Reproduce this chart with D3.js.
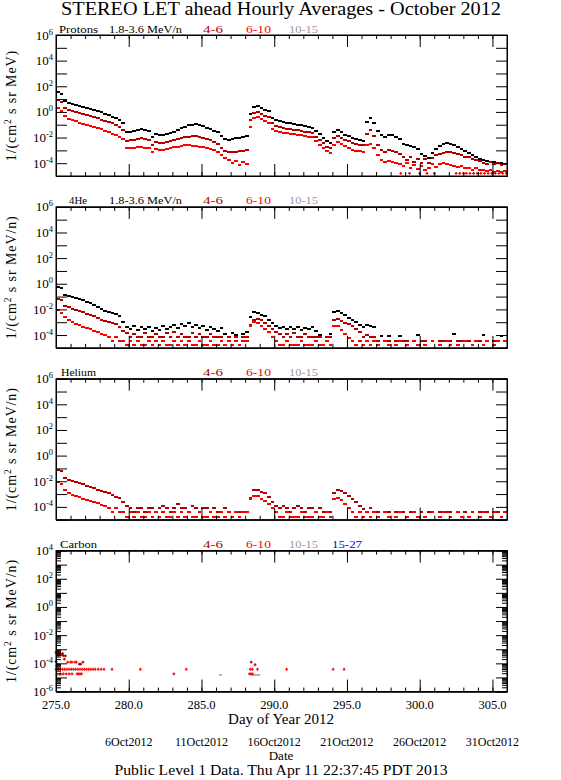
<!DOCTYPE html>
<html><head><meta charset="utf-8">
<script src="https://cdn.jsdelivr.net/npm/d3@7"></script>
<style>body{margin:0;background:#fff}svg{display:block}</style>
</head><body>
<svg id="c" width="561" height="780"></svg>
<script>
// ---------------- DATA (log10 of flux, one value per 6-hour bin starting at DOY 275.00) ----------------
const binStart = 275, binDays = 0.25;
const xMajorTicks = [275, 280, 285, 290, 295, 300, 305];
const dateLabelDays = [280, 285, 290, 295, 300, 305];
const dateLabels = ["6Oct2012", "11Oct2012", "16Oct2012", "21Oct2012", "26Oct2012", "31Oct2012"];
const channelLabels = ["4-6", "6-10", "10-15", "15-27"];
const topExponents = [6, 4, 2, 0, -2, -4];
const carbonExponents = [4, 2, 0, -2, -4, -6];

// Protons
const protons_1_8_3_6 = [
 1.53,1.37,0.85,0.70, 0.62,0.54,0.46,0.40,
 0.32,0.24,0.17,0.08, -0.02,-0.14,-0.26,-0.36,
 -0.48,-0.62,-0.89,-1.58, -1.55,-1.50,-1.42,-1.36,
 -1.42,-1.52,-1.95,-1.70, -1.80,-1.78,-1.72,-1.64,
 -1.55,-1.42,-1.28,-1.16, -1.06,-0.99,-0.97,-1.04,
 -1.12,-1.22,-1.33,-1.46, -1.60,-1.90,-2.15,-2.17,
 -2.10,-2.06,-2.02,-1.96, -1.90,-0.20,0.42,0.46,
 0.30,0.15,0.04,-0.45, -0.64,-0.72,-0.78,-0.84,
 -0.89,-0.94,-0.99,-1.04, -1.10,-1.16,-1.22,-1.50,
 -1.75,-2.02,-2.25,-2.40, -1.60,-1.42,-1.58,-1.78,
 -1.90,-2.00,-2.08,-2.18, -2.24,-0.80,-0.48,-0.90,
 -1.50,-1.80,-1.98,-1.82, -1.84,-1.92,-2.10,-2.50,
 -2.62,-2.68,-2.72,-2.90, -3.30,-3.45,-3.60,-3.20,
 -2.88,-2.65,-2.48,-2.42, -2.50,-2.60,-2.75,-2.90,
 -3.05,-3.20,-3.35,-3.50, -3.65,-3.78,-3.85,-3.90,
 -3.93,-3.98,-4.02,-4.07];
const protons_4_6 = [
 0.93,0.80,0.30,0.12, 0.05,-0.02,-0.10,-0.17,
 -0.25,-0.33,-0.40,-0.50, -0.60,-0.70,-0.80,-0.90,
 -1.02,-1.18,-1.42,-2.30, -2.22,-2.18,-2.10,-2.06,
 -2.10,-2.16,-2.55,-2.33, -2.45,-2.42,-2.36,-2.28,
 -2.20,-2.10,-2.02,-1.96, -1.92,-1.88,-1.88,-1.95,
 -2.03,-2.12,-2.22,-2.35, -2.50,-2.80,-3.05,-3.12,
 -3.10,-3.15,-3.02,-3.08, -3.00,-0.60,-0.12,0.00,
 -0.15,-0.30,-0.40,-0.90, -1.10,-1.18,-1.24,-1.30,
 -1.36,-1.40,-1.44,-1.48, -1.54,-1.60,-1.66,-1.95,
 -2.20,-2.45,-2.70,-2.85, -2.05,-1.90,-2.05,-2.18,
 -2.30,-2.40,-2.48,-2.55, -2.60,-1.70,-1.45,-1.90,
 -2.60,-3.00,-3.12,-2.98, -3.05,-3.15,-3.25,-3.50,
 -3.75,-3.55,-3.90,-3.65, -3.95,-3.70,-4.00,-3.60,
 -3.40,-3.25,-3.18,-3.10, -3.12,-3.20,-3.30,-3.40,
 -3.50,-3.55,-3.65,-3.75, -3.85,-3.95,-4.05,-3.90,
 -4.10,-4.00,-4.15,-4.05];
const protons_6_10 = [
 0.28,0.10,-0.35,-0.58, -0.66,-0.74,-0.84,-0.92,
 -1.00,-1.08,-1.16,-1.26, -1.36,-1.46,-1.58,-1.70,
 -1.82,-1.94,-2.10,-2.82, -2.80,-2.78,-2.76,-2.75,
 -2.80,-2.85,-3.15,-2.92, -2.97,-2.95,-2.90,-2.82,
 -2.76,-2.70,-2.64,-2.60, -2.62,-2.65,-2.66,-2.70,
 -2.76,-2.82,-2.90,-3.00, -3.12,-3.35,-3.60,-3.75,
 -3.95,-3.80,-4.15,-3.90, -4.05,-1.20,-0.50,-0.42,
 -0.58,-0.72,-0.85,-1.30, -1.50,-1.58,-1.63,-1.68,
 -1.72,-1.76,-1.80,-1.84, -1.88,-1.92,-1.98,-2.28,
 -2.55,-2.82,-3.05,-3.20, -2.55,-2.35,-2.52,-2.68,
 -2.85,-2.97,-3.02,-3.08, -3.12,-2.60,-2.48,-2.80,
 -3.40,-3.75,-3.88,-3.85, -3.92,-4.00,-4.05,-4.20,
 -4.00,-4.35,-4.15,-4.45, -4.20,-4.55,-4.35,-4.10,
 -4.30,-4.05,-4.00,-4.10, -4.15,-4.25,-4.30,-4.20,
 -4.40,-4.35,-4.50,-4.40, -4.55,-4.50,-4.62,-4.55,
 -4.65,-4.60,-4.70,-4.62];
const protonFloorDays = [298.7,299.3,300.0,300.5,301.0,302.5,302.75,303.0,303.2,303.45,303.7,303.95,304.2,304.45,304.7,304.95,305.2,305.45,305.7,305.95];
const protonFloorLog = -4.79;

// 4He
const he4_1_8_3_6 = [
 -0.25,-0.30,-0.85,-0.92, -1.02,-1.10,-1.20,-1.30,
 -1.40,-1.50,-1.62,-1.78, -1.95,-2.10,-2.20,-2.28,
 -2.36,-2.55,-2.95,-3.35, -3.50,-3.30,-3.60,-3.40,
 -3.55,-3.35,-3.70,-3.45, -3.60,-3.30,-3.50,-3.40,
 -3.25,-3.45,-3.15,-3.30, -3.10,-3.35,-3.20,-3.45,
 -3.30,-3.60,-3.40,-3.55, -3.70,-3.45,-3.90,null,
 -3.85,-4.00,null,-3.90, -3.80,-2.60,-2.22,-2.25,
 -2.40,-2.55,-2.80,-3.10, -3.30,-3.45,-3.35,-3.55,
 -3.40,-3.50,-3.35,-3.60, -3.45,-3.55,-3.40,-3.70,
 -4.00,null,null,-3.95, -2.20,-2.10,-2.30,-2.45,
 -2.65,-2.85,-3.00,-3.25, -3.40,-3.25,-3.30,-3.40,
 null,-4.10,null,-4.10, null,null,-4.10,null,
 null,null,null,-4.00, null,null,null,null,
 null,null,null,null, null,-3.95,null,null,
 null,null,null,null, null,-3.97,null,null,
 null,null,-4.10,null];
const he4_4_6 = [
 -1.17,-1.28,-1.75,-1.85, -1.95,-2.03,-2.12,-2.22,
 -2.35,-2.45,-2.55,-2.68, -2.85,-2.92,-3.00,-3.06,
 -3.12,-3.35,-3.65,-3.85, -4.15,-3.90,-4.15,-4.15,
 -3.85,-4.15,-4.15,-3.95, -4.15,-4.15,-3.85,-4.15,
 -3.80,-4.15,-3.90,-4.15, -4.15,-3.85,-4.15,-3.95,
 -4.15,-4.15,-3.90,-4.15, -4.15,-4.15,null,-4.15,
 null,-4.15,null,-4.15, -4.15,-3.20,-2.80,-2.73,
 -2.85,-3.05,-3.30,-3.55, -3.80,-3.95,-4.15,-3.90,
 -4.15,-3.85,-4.15,-4.15, -3.95,-4.15,-4.15,-4.15,
 -4.15,null,-4.15,-4.15, -2.85,-2.75,-2.90,-3.05,
 -3.15,-3.30,-3.55,-3.80, -4.15,-4.00,-4.15,-4.15,
 -4.47,null,-4.47,-4.47, null,-4.47,null,-4.47,
 -4.47,null,-4.47,null, -4.47,-4.47,null,-4.47,
 null,-4.47,-4.47,null, -4.47,null,-4.47,-4.47,
 null,-4.47,null,-4.47, -4.47,null,-4.47,null,
 -4.47,-4.47,null,-4.47];
const he4_6_10 = [
 -2.08,-2.25,-2.60,-2.85, -3.00,-3.15,-3.25,-3.35,
 -3.45,-3.55,-3.65,-3.75, -3.90,-4.00,-4.15,-4.47,
 -4.15,-4.47,-4.47,-4.80, -4.47,-4.80,-4.47,-4.80,
 -4.80,-4.47,-4.80,-4.47, -4.80,-4.47,-4.80,-4.80,
 -4.47,-4.80,-4.47,-4.80, -4.47,-4.80,-4.80,-4.47,
 -4.80,-4.80,-4.47,-4.80, -4.80,-4.47,-4.80,-4.47,
 -4.80,-4.47,-4.80,-4.47, -4.47,-3.30,-3.00,-3.10,
 -3.30,-3.55,-3.80,-4.15, -4.47,-4.80,-4.80,-4.47,
 -4.80,-4.80,-4.80,-4.47, -4.80,-4.80,-4.80,-4.47,
 -4.80,-4.80,-4.47,-4.80, -3.30,-3.30,-3.60,-3.90,
 -4.20,-4.47,-4.80,-4.47, -4.80,-4.47,-4.80,-4.47,
 -4.80,null,-4.47,-4.80, null,-4.80,-4.47,null,
 -4.80,null,-4.47,-4.80, null,-4.80,null,-4.47,
 null,-4.80,null,-4.47, -4.80,null,-4.80,null,
 -4.47,null,-4.80,-4.47, null,-4.80,-4.47,null,
 -4.80,-4.47,null,-4.47];

// Helium
const helium_4_6 = [
 -1.13,-1.20,-1.75,-1.88, -1.98,-2.07,-2.15,-2.25,
 -2.35,-2.45,-2.55,-2.65, -2.78,-2.85,-2.95,-3.05,
 -3.20,-3.32,-3.65,-3.95, -4.10,-4.40,-4.05,-4.10,
 -4.40,-4.05,-4.10,-4.40, -4.05,-3.90,-4.10,-4.40,
 -4.05,-3.80,-4.10,-4.05, -4.40,-3.95,-4.10,-4.40,
 -4.05,-4.10,-4.40,-4.10, -4.40,-4.40,-4.10,-4.40,
 null,-4.40,-4.40,null, -4.40,-3.30,-2.72,-2.70,
 -2.80,-2.95,-3.20,-3.60, -3.90,-4.05,-3.95,-4.10,
 -4.40,-4.05,-3.90,-4.10, -4.40,-4.05,-4.10,-4.40,
 -4.10,-4.40,null,-4.40, -2.90,-2.70,-2.78,-2.95,
 -3.15,-3.35,-3.65,-3.90, -4.15,-4.40,-4.10,-4.40,
 -4.40,null,-4.40,-4.40, null,-4.40,null,-4.40,
 null,-4.40,null,null, -4.40,null,-4.40,-4.40,
 null,-4.40,null,-4.40, -4.40,null,-4.40,null,
 -4.40,null,-4.40,null, -4.40,null,-4.40,null,
 -4.40,-4.40,null,-4.40];
const helium_6_10 = [
 -2.09,-2.25,-2.70,-2.92, -3.05,-3.15,-3.25,-3.35,
 -3.45,-3.55,-3.62,-3.72, -3.85,-3.95,-4.05,-4.43,
 -4.05,-4.43,-4.43,-4.77, -4.43,-4.77,-4.43,-4.77,
 -4.77,-4.43,-4.77,-4.43, -4.77,-4.43,-4.77,-4.77,
 -4.43,-4.77,-4.43,-4.77, -4.43,-4.77,-4.77,-4.43,
 -4.77,-4.77,-4.43,-4.77, -4.77,-4.43,-4.77,-4.43,
 -4.77,-4.43,-4.77,-4.43, -4.43,-3.40,-3.15,-3.15,
 -3.35,-3.55,-3.75,-4.05, -4.43,-4.77,-4.77,-4.43,
 -4.77,-4.77,-4.77,-4.43, -4.77,-4.77,-4.77,-4.43,
 -4.77,-4.77,-4.43,-4.77, -3.40,-3.30,-3.50,-3.75,
 -4.05,-4.43,-4.77,-4.43, -4.77,-4.43,-4.77,-4.43,
 -4.77,null,-4.43,-4.77, null,-4.77,-4.43,null,
 -4.77,null,-4.43,-4.77, null,-4.77,null,-4.43,
 null,-4.77,-4.43,null, -4.77,null,-4.43,-4.77,
 null,-4.77,-4.43,null, -4.77,-4.43,null,-4.77,
 -4.43,null,-4.77,-4.43];

// Carbon (sparse hourly points: day, log10 flux)
const carbon_4_6_days = [275.0,275.05,275.1,275.15,275.2,275.25,275.3,275.35,275.45,275.5,275.57,275.65,275.0,275.05,275.12,276.6,276.7,276.85,288.42,288.68];
const carbon_4_6_log  = [-3.2,-3.35,-3.25,-3.45,-3.3,-3.35,-3.3,-3.4,-3.3,-3.45,-3.7,-3.47,-3.87,-4.18,-4.05,-4.06,-4.06,-3.92,-3.92,-4.1];
const carbon_6_10_days = [275.8,276.0,276.1,276.3,276.4,
 275.0,275.15,275.3,275.45,275.6,275.75,275.9,276.05,276.2,276.35,276.5,276.65,276.8,276.95,277.1,277.25,277.4,277.55,277.7,277.9,278.1,278.3,278.85,280.8,283.95,288.35,288.5,288.85,290.85,294.05,294.8,
 275.3,275.5,275.7,275.9,276.1,276.45,276.55,276.65,276.75,283.1,288.3,288.4,288.5];
const carbon_6_10_log = [-3.92,-3.92,-3.92,-3.92,-3.92,
 -4.42,-4.42,-4.42,-4.42,-4.42,-4.42,-4.42,-4.42,-4.42,-4.42,-4.42,-4.42,-4.42,-4.42,-4.42,-4.42,-4.42,-4.42,-4.42,-4.42,-4.42,-4.42,-4.42,-4.42,-4.42,-4.42,-4.42,-4.42,-4.42,-4.42,-4.42,
 -4.75,-4.75,-4.75,-4.75,-4.75,-4.75,-4.75,-4.75,-4.75,-4.75,-4.75,-4.75,-4.75];
const carbon_10_15_days = [275.05,275.2,275.35,286.3,288.5,288.65,288.8,288.95];
const carbon_10_15_log  = [-4.82,-4.82,-4.82,-4.82,-4.82,-4.82,-4.82,-4.82];

// ---------------- DRAWING ----------------
const C_BLACK = "#000000", C_DRED = "#b00000", C_RED = "#ff0000", C_GRAY = "#999999", C_BLUE = "#0000ff";
const FONT = "'Liberation Serif','DejaVu Serif',serif";
const svg = d3.select("#c");
svg.append("rect").attr("width", 561).attr("height", 780).attr("fill", "#fff");

const x = d3.scaleLinear().domain([275, 306]).range([56, 507]);
const panelH = 141;
const panels = [
  {name: "Protons", nameX: 59, nameW: 39, sub: "1.8-3.6 MeV/n", legends: 3, unit: "MeV", domain: [1e-5, 1e6], exps: topExponents,
   series: [[protons_1_8_3_6, C_BLACK], [protons_4_6, C_DRED], [protons_6_10, C_RED]]},
  {name: "4He", nameX: 69, nameW: 18, sub: "1.8-3.6 MeV/n", legends: 3, unit: "MeV/n", domain: [1e-5, 1e6], exps: topExponents,
   series: [[he4_1_8_3_6, C_BLACK], [he4_4_6, C_DRED], [he4_6_10, C_RED]]},
  {name: "Helium", nameX: 61, nameW: 35, sub: null, legends: 3, unit: "MeV/n", domain: [1e-5, 1e6], exps: topExponents,
   series: [[helium_4_6, C_DRED], [helium_6_10, C_RED]]},
  {name: "Carbon", nameX: 60, nameW: 37, sub: null, legends: 4, unit: "MeV/n", domain: [1e-6, 1e4], exps: carbonExponents, minor: true,
   series: []}
];
const legendX = [203, 246, 289, 332];
const legendW = [20, 25, 29, 30];
const legendColors = [C_DRED, C_RED, C_GRAY, C_BLUE];

// title
svg.append("text").attr("x", 281).attr("y", 15).attr("text-anchor", "middle")
  .attr("font-family", FONT).attr("font-size", 18).attr("textLength", 440).attr("lengthAdjust", "spacingAndGlyphs")
  .text("STEREO LET ahead Hourly Averages - October 2012");

panels.forEach((p, pi) => {
  const top = 35 + pi * 171.85, bot = top + panelH;
  const y = d3.scaleLog().domain(p.domain).range([bot, top]);
  const g = svg.append("g");

  // data
  const bw = x(binStart + binDays) - x(binStart);
  p.series.forEach(([vals, col]) => {
    g.append("g").selectAll("rect").data(vals.map((v, i) => ({d: binStart + i * binDays, v})).filter(o => o.v !== null))
      .join("rect")
      .attr("x", o => x(o.d)).attr("width", bw)
      .attr("y", o => y(Math.pow(10, o.v)) - 1).attr("height", 2)
      .attr("fill", col).attr("shape-rendering", "crispEdges");
  });
  const plus = (days, logs, col, sz) => {
    g.append("g").selectAll("path").data(days.map((d, i) => ({d, v: Array.isArray(logs) ? logs[i] : logs})))
      .join("path")
      .attr("transform", o => `translate(${x(o.d)},${y(Math.pow(10, o.v))})`)
      .attr("d", `M${-sz},0H${sz}M0,${-sz}V${sz}`)
      .attr("stroke", col).attr("stroke-width", 1.2).attr("fill", "none");
  };
  if (pi === 0) plus(protonFloorDays, protonFloorLog, C_RED, 1.4);
  if (pi === 3) {
    g.append("g").selectAll("rect").data(carbon_10_15_days.map((d, i) => ({d, v: carbon_10_15_log[i]})))
      .join("rect").attr("x", o => x(o.d) - 1.5).attr("width", 3).attr("y", o => y(Math.pow(10, o.v)) - 0.7).attr("height", 1.4)
      .attr("fill", C_GRAY);
    plus(carbon_6_10_days, carbon_6_10_log, C_RED, 1.4);
    plus(carbon_4_6_days, carbon_4_6_log, C_DRED, 1.4);
  }

  // axes
  const decades = d3.range(Math.log10(p.domain[0]), Math.log10(p.domain[1]) + 1).map(e => Math.pow(10, e));
  const axStyle = sel => { sel.selectAll("path,line").attr("stroke", "#000").attr("stroke-width", 1); sel.selectAll("text").remove(); };
  g.append("g").attr("transform", `translate(56,0)`).call(d3.axisLeft(y).tickValues(decades).tickSize(-11).tickSizeOuter(0).tickFormat("")).call(axStyle);
  g.append("g").attr("transform", `translate(507,0)`).call(d3.axisRight(y).tickValues(decades).tickSize(-11).tickSizeOuter(0).tickFormat("")).call(axStyle);
  if (p.minor) {
    const minors = [];
    decades.slice(0, -1).forEach(dv => { for (let k = 2; k <= 9; k++) minors.push(dv * k); });
    g.append("g").attr("transform", `translate(56,0)`).call(d3.axisLeft(y).tickValues(minors).tickSize(-5).tickSizeOuter(0).tickFormat("")).call(axStyle);
    g.append("g").attr("transform", `translate(507,0)`).call(d3.axisRight(y).tickValues(minors).tickSize(-5).tickSizeOuter(0).tickFormat("")).call(axStyle);
  }
  const allDays = d3.range(275, 307);
  [[d3.axisTop, top], [d3.axisBottom, bot]].forEach(([ax, yy]) => {
    g.append("g").attr("transform", `translate(0,${yy})`).call(ax(x).tickValues(allDays).tickSize(-4).tickSizeOuter(0).tickFormat("")).call(axStyle);
    g.append("g").attr("transform", `translate(0,${yy})`).call(ax(x).tickValues(xMajorTicks).tickSize(-12).tickSizeOuter(0).tickFormat("")).call(axStyle);
  });

  // y labels
  p.exps.forEach(e => {
    const t = g.append("text").attr("x", 53).attr("y", y(Math.pow(10, e)) + 4.5).attr("text-anchor", "end")
      .attr("font-family", FONT).attr("font-size", 13);
    t.append("tspan").text("10");
    t.append("tspan").attr("dy", -5).attr("font-size", 8.5).text(String(e));
  });
  // y title
  const yt = g.append("text").attr("transform", `translate(16,${top + panelH / 2}) rotate(-90)`).attr("text-anchor", "middle")
    .attr("font-family", FONT).attr("font-size", 14).attr("letter-spacing", 0.9);
  yt.append("tspan").text("1/(cm");
  yt.append("tspan").attr("dy", -5).attr("font-size", 9.5).text("2");
  yt.append("tspan").attr("dy", 5).text(" s sr " + p.unit + ")");

  // panel labels
  const lab = (tx, xx, w, col) => g.append("text").attr("x", xx).attr("y", top - 2.5).attr("font-family", FONT)
    .attr("font-size", 11).attr("fill", col).attr("textLength", w).attr("lengthAdjust", "spacingAndGlyphs").text(tx);
  lab(p.name, p.nameX, p.nameW, C_BLACK);
  if (p.sub) lab(p.sub, 109, 73, C_BLACK);
  for (let k = 0; k < p.legends; k++) lab(channelLabels[k], legendX[k], legendW[k], legendColors[k]);

  // frame
  g.append("rect").attr("x", 56).attr("y", top).attr("width", 451).attr("height", panelH)
    .attr("fill", "none").attr("stroke", "#000").attr("stroke-width", 1);

  if (pi === 3) {
    xMajorTicks.forEach(v => g.append("text").attr("x", x(v)).attr("y", bot + 17.5).attr("text-anchor", "middle")
      .attr("font-family", FONT).attr("font-size", 12.5).text(d3.format(".1f")(v)));
    g.append("text").attr("x", 281).attr("y", bot + 32).attr("text-anchor", "middle").attr("font-family", FONT)
      .attr("font-size", 15).text("Day of Year 2012");
    dateLabelDays.forEach((v, i) => g.append("text").attr("x", x(v)).attr("y", bot + 54).attr("text-anchor", "middle")
      .attr("font-family", FONT).attr("font-size", 12).text(dateLabels[i]));
    g.append("text").attr("x", 281).attr("y", bot + 68).attr("text-anchor", "middle").attr("font-family", FONT)
      .attr("font-size", 13).text("Date");
    g.append("text").attr("x", 281).attr("y", bot + 83).attr("text-anchor", "middle").attr("font-family", FONT)
      .attr("font-size", 14).attr("textLength", 333).attr("lengthAdjust", "spacingAndGlyphs")
      .text("Public Level 1 Data. Thu Apr 11 22:37:45 PDT 2013");
  }
});
</script>
</body></html>
